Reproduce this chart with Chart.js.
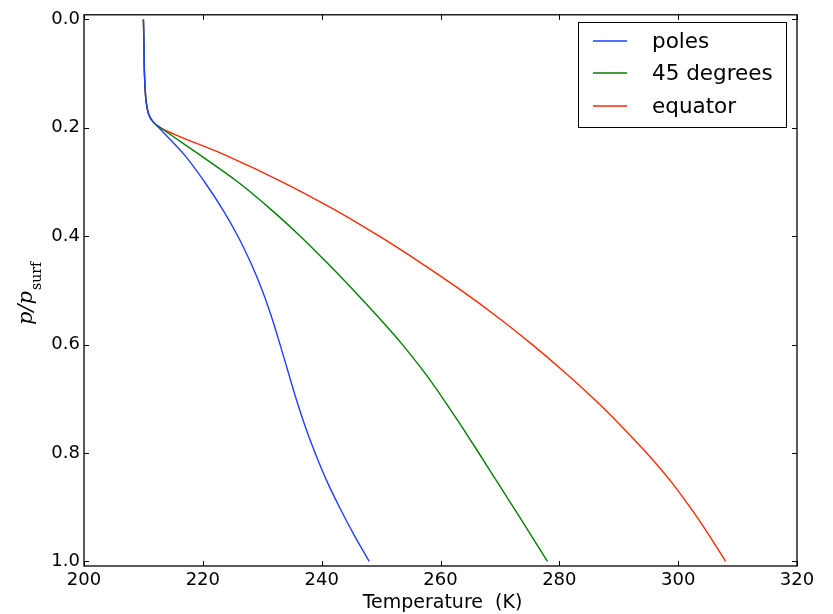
<!DOCTYPE html>
<html><head><meta charset="utf-8">
<script src="https://cdn.jsdelivr.net/npm/chart.js@4"></script>
<style>html,body{margin:0;padding:0;background:#fff}#wrap{width:833px;height:614px}</style>
</head><body><div id="wrap"><canvas id="c" width="833" height="614"></canvas></div>
<script>
// ---- data ----
const seriesNames = ['poles', '45 degrees', 'equator'];
const seriesColors = ['#1f3fff', '#008000', '#ff2a00'];

// pressure levels p/p_surf
const pressure = [0.0, 0.05, 0.09, 0.13, 0.155, 0.178, 0.19, 0.2, 0.25, 0.30, 0.35, 0.40, 0.45, 0.50, 0.55, 0.60, 0.65, 0.70, 0.75, 0.80, 0.85, 0.90, 0.95, 1.0];
// temperature (K) at each pressure level
const polesT = [210.0, 210.1, 210.15, 210.3, 210.5, 211.0, 211.7, 212.6, 216.9, 220.3, 223.3, 225.9, 228.1, 230.0, 231.6, 233.0, 234.35, 235.7, 237.2, 238.9, 240.8, 243.0, 245.4, 248.0];
const midT   = [210.0, 210.1, 210.15, 210.3, 210.5, 211.0, 211.7, 212.9, 219.5, 225.9, 231.4, 236.4, 241.0, 245.4, 249.6, 253.6, 257.2, 260.45, 263.5, 266.45, 269.35, 272.25, 275.15, 278.0];
const eqT    = [210.0, 210.1, 210.15, 210.3, 210.5, 211.0, 211.7, 212.9, 223.7, 233.4, 242.0, 249.7, 256.8, 263.5, 269.7, 275.45, 280.8, 285.8, 290.4, 294.7, 298.6, 302.0, 305.1, 308.0];

const xTicks = [200, 220, 240, 260, 280, 300, 320];
const yTicks = [0.0, 0.2, 0.4, 0.6, 0.8, 1.0];
const xTitle = 'Temperature  (K)';

// ---- build ----
function pts(T) { return T.map((t, i) => ({ x: t, y: pressure[i] })); }
const seriesT = [polesT, midT, eqT];

const datasets = seriesNames.map((n, i) => ({
  label: n,
  data: pts(seriesT[i]),
  showLine: true,
  borderColor: seriesColors[i],
  backgroundColor: seriesColors[i],
  borderWidth: 1.4,
  pointRadius: 0,
  cubicInterpolationMode: 'monotone',
  fill: false
}));

const framePlugin = {
  id: 'frame',
  afterDraw(chart) {
    const ctx = chart.ctx, a = chart.chartArea;
    const xs = chart.scales.x, ys = chart.scales.y;
    ctx.save();
    ctx.strokeStyle = '#000';
    ctx.lineWidth = 1;
    ctx.beginPath();
    xTicks.forEach(v => {
      const px = Math.round(xs.getPixelForValue(v)) + 0.5;
      ctx.moveTo(px, a.bottom); ctx.lineTo(px, a.bottom - 5);
      ctx.moveTo(px, a.top); ctx.lineTo(px, a.top + 5);
    });
    yTicks.forEach(v => {
      const py = Math.round(ys.getPixelForValue(v)) + 0.5;
      ctx.moveTo(a.left, py); ctx.lineTo(a.left + 5, py);
      ctx.moveTo(a.right, py); ctx.lineTo(a.right - 5, py);
    });
    ctx.stroke();
    ctx.lineWidth = 1.3;
    ctx.strokeRect(a.left, a.top, a.right - a.left, a.bottom - a.top);

    // legend
    const lx = 578.5, ly = 22.5, lw = 208, lh = 105;
    ctx.fillStyle = '#fff';
    ctx.fillRect(lx, ly, lw, lh);
    ctx.lineWidth = 1;
    ctx.strokeRect(lx, ly, lw, lh);
    ctx.font = '21.5px "DejaVu Sans"';
    ctx.textBaseline = 'middle';
    ctx.textAlign = 'left';
    const rows = [41, 73, 106];
    chart.data.datasets.forEach((d, i) => {
      ctx.strokeStyle = d.borderColor;
      ctx.lineWidth = 1.4;
      ctx.beginPath();
      ctx.moveTo(593, rows[i]); ctx.lineTo(627, rows[i]);
      ctx.stroke();
      ctx.fillStyle = '#000';
      ctx.fillText(d.label, 652, rows[i] + 1);
    });

    // x title
    ctx.font = '19px "DejaVu Sans"';
    ctx.textAlign = 'center';
    ctx.textBaseline = 'middle';
    ctx.fillText(xTitle, (a.left + a.right) / 2 + 2, 603);

    // y title p/p_surf
    ctx.save();
    ctx.translate(32, (a.top + a.bottom) / 2 + 3);
    ctx.rotate(-Math.PI / 2);
    const f1 = 'italic 21px "DejaVu Serif"';
    const f2 = '14px "DejaVu Serif"';
    ctx.font = f1; const w1 = ctx.measureText('p/p').width;
    ctx.font = f2; const w2 = ctx.measureText('surf').width;
    const x0 = -(w1 + w2 + 1) / 2;
    ctx.textAlign = 'left';
    ctx.textBaseline = 'alphabetic';
    ctx.font = f1; ctx.fillText('p/p', x0, 0);
    ctx.font = f2; ctx.fillText('surf', x0 + w1 + 1, 9);
    ctx.restore();
    ctx.restore();
  }
};

new Chart(document.getElementById('c'), {
  type: 'scatter',
  data: { datasets },
  options: {
    responsive: false,
    animation: false,
    devicePixelRatio: 1,
    indexAxis: 'y',
    layout: { padding: { left: 0, top: 12, right: 36, bottom: 0 } },
    plugins: { legend: { display: false }, tooltip: { enabled: false } },
    scales: {
      x: {
        type: 'linear', position: 'bottom', min: 200, max: 320,
        grid: { display: false, drawTicks: false }, border: { display: false },
        afterBuildTicks: s => { s.ticks = xTicks.map(v => ({ value: v })); },
        afterFit: s => { s.height = 48; },
        ticks: { color: '#000', font: { family: 'DejaVu Sans', size: 18 }, padding: 4, maxRotation: 0, autoSkip: false, callback: v => String(v) }
      },
      y: {
        type: 'linear', position: 'left', reverse: true, min: -0.0085, max: 1.0085,
        grid: { display: false, drawTicks: false }, border: { display: false },
        afterBuildTicks: s => { s.ticks = yTicks.map(v => ({ value: v })); },
        afterFit: s => { s.width = 84; },
        ticks: { color: '#000', font: { family: 'DejaVu Sans', size: 18 }, padding: 4, autoSkip: false, callback: v => Number(v).toFixed(1) }
      }
    }
  },
  plugins: [framePlugin]
});
</script></body></html>
